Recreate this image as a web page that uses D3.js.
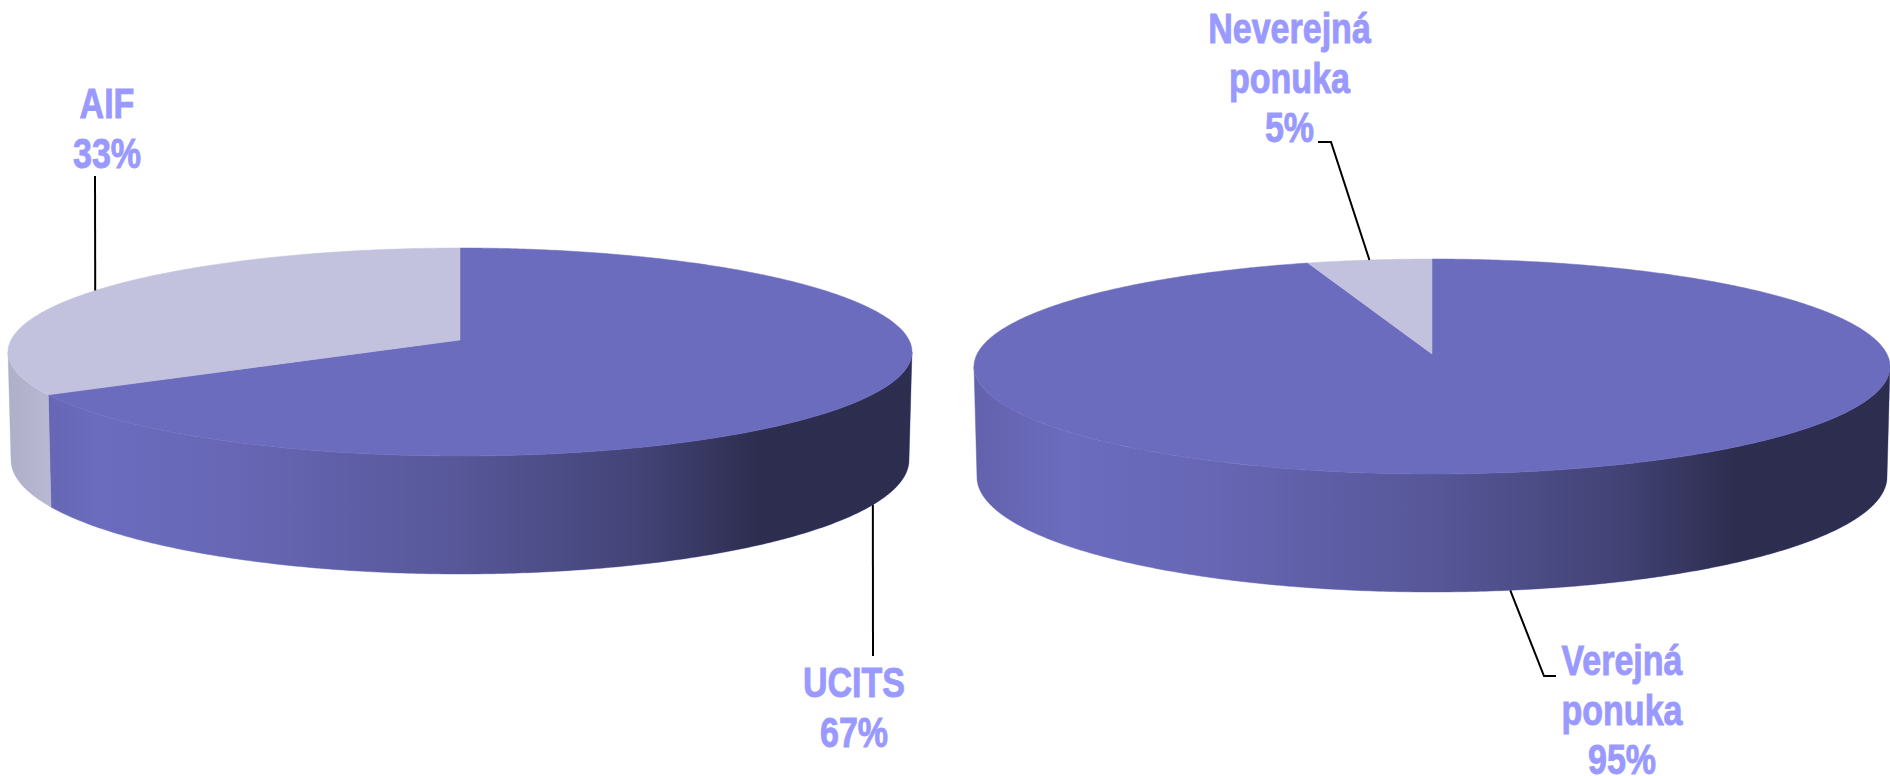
<!DOCTYPE html>
<html>
<head>
<meta charset="utf-8">
<script src="https://cdn.jsdelivr.net/npm/d3@7"></script>
<style>
html, body { margin: 0; background: #fff; overflow: hidden; }
svg { display: block; }
text { font-family: "Liberation Sans", Arial, sans-serif; font-weight: bold; font-size: 42px; fill: #9999ff; stroke: #9999ff; stroke-width: 0.9px; text-anchor: middle; }
</style>
</head>
<body>
<div id="chart"></div>
<script>
// chart data
var fundTypes = ["UCITS", "AIF"];
var fundValues = [66.6, 33.4];
var offerTypes = ["Verejná ponuka", "Neverejná ponuka"];
var offerValues = [95.1, 4.9];
var sliceColors = ["#6c6cbf", "#c2c2df"];

// pie geometry, screen px. top = lid of the disc, base = lower rim
var pies = [
    {
        names: fundTypes, values: fundValues, cx: 460,
        top: {far: 248, apex: 340, near: 456, rx: 452},
        base: {far: 346, near: 574, rx: 449},
        labels: [
            {x: 854, y: 697, nudge: -0.0135, leader: [[873, 656]]},
            {x: 107, y: 118, nudge: 0.0135, leader: [[95, 176]]}
        ]
    },
    {
        names: offerTypes, values: offerValues, cx: 1432,
        top: {far: 259, apex: 354, near: 474, rx: 458},
        base: {far: 362, near: 592, rx: 455},
        labels: [
            {x: 1622, y: 675, nudge: 0, leader: [[1544, 676], [1556, 676]]},
            {x: 1289.5, y: 43, nudge: 0, leader: [[1331, 142], [1318, 142]]}
        ]
    }
];

var width = 1890, height = 776, lineHeight = 49.5, squeeze = 0.81;
var tau = 2 * Math.PI;

var svg = d3.select("#chart").append("svg")
    .attr("width", width)
    .attr("height", height);

var defs = svg.append("defs");

var pie = d3.pie().sort(null).startAngle(0).endAngle(tau);
var pathLine = d3.line();

// perspective projection of a unit disc onto the screen
function makeRim(cx, rim, k)
{
    var b = (rim.near - rim.far) / 2 * (1 - k * k);
    var y0 = rim.near - b / (1 + k);
    var a = rim.rx * Math.sqrt(1 - k * k);
    var xScale = d3.scaleLinear().domain([-1, 1]).range([cx - a, cx + a]);
    var yScale = d3.scaleLinear().domain([-1, 1]).range([y0 - b, y0 + b]);
    return function(angle)
    {
        var u = Math.sin(angle), v = -Math.cos(angle);
        var s = 1 + k * v;
        return [xScale(u / s), yScale(v / s)];
    };
}

function arcPoints(rim, a0, a1)
{
    var n = Math.max(2, Math.ceil(Math.abs(a1 - a0) / 0.01));
    return d3.range(n + 1).map(function(i) { return rim(a0 + (a1 - a0) * i / n); });
}

pies.forEach(function(p, idx)
{
    // how much nearer the front edge looks than the back edge
    var ratio = (p.top.near - p.top.apex) / (p.top.apex - p.top.far);
    var k = (1 - ratio) / (1 + ratio);

    var topRim = makeRim(p.cx, p.top, k);
    var baseRim = makeRim(p.cx, p.base, k);
    var arcs = pie(p.values);

    // the wall is only seen between the two side extremes of the disc
    var wallStart = Math.acos(k), wallEnd = tau - wallStart;

    // shading of the wall, left to right
    var shadeId = "shade" + idx;
    var shade = defs.append("linearGradient")
        .attr("id", shadeId)
        .attr("gradientUnits", "userSpaceOnUse")
        .attr("x1", p.cx - p.top.rx)
        .attr("x2", p.cx + p.top.rx)
        .attr("y1", 0)
        .attr("y2", 0);
    [[0, 0.1], [0.1, 0], [0.25, 0.05], [0.5, 0.2], [0.7, 0.38], [0.83, 0.58], [1, 0.58]].forEach(function(s)
    {
        shade.append("stop")
            .attr("offset", s[0])
            .attr("stop-color", "#000")
            .attr("stop-opacity", s[1]);
    });

    var g = svg.append("g");

    // walls
    arcs.forEach(function(d, i)
    {
        var a0 = Math.max(d.startAngle, wallStart);
        var a1 = Math.min(d.endAngle, wallEnd);
        if (a1 <= a0) return;

        var outline = arcPoints(topRim, a0, a1).concat(arcPoints(baseRim, a1, a0));
        var dPath = pathLine(outline) + "Z";

        g.append("path")
            .attr("d", dPath)
            .attr("fill", sliceColors[i])
            .attr("stroke", sliceColors[i])
            .attr("stroke-width", 0.5);

        g.append("path")
            .attr("d", dPath)
            .attr("fill", "url(#" + shadeId + ")");
    });

    // lid
    arcs.forEach(function(d, i)
    {
        var outline = [[p.cx, p.top.apex]].concat(arcPoints(topRim, d.startAngle, d.endAngle));
        g.append("path")
            .attr("d", pathLine(outline) + "Z")
            .attr("fill", sliceColors[i])
            .attr("stroke", sliceColors[i])
            .attr("stroke-width", 0.5);
    });

    // leaders and labels
    arcs.forEach(function(d, i)
    {
        var label = p.labels[i];
        var mid = (d.startAngle + d.endAngle) / 2 + label.nudge;
        var front = mid > wallStart && mid < wallEnd;
        var anchor = front ? baseRim(mid) : topRim(mid);

        g.append("path")
            .attr("d", pathLine([anchor].concat(label.leader)))
            .attr("fill", "none")
            .attr("stroke", "#000")
            .attr("stroke-width", 2);

        var rows = p.names[i].split(" ").concat(d3.format(".0f")(d.value) + "%");
        g.selectAll(null)
            .data(rows)
            .enter().append("text")
            .attr("transform", function(r, j)
            {
                return "translate(" + label.x + "," + (label.y + j * lineHeight) + ") scale(" + squeeze + ",1)";
            })
            .text(function(r) { return r; });
    });
});
</script>
</body>
</html>
